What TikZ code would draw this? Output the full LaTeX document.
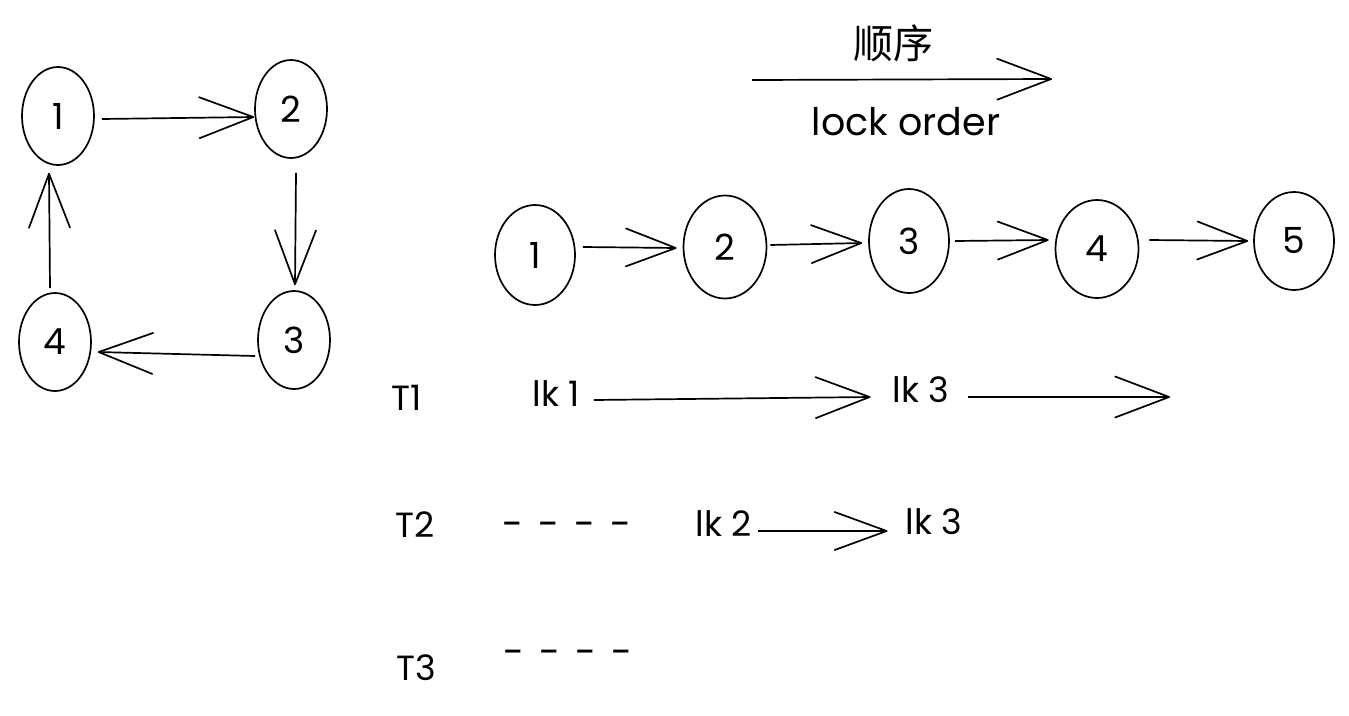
\documentclass[tikz,border=0pt]{standalone}
\usepackage{fontspec}
\setmainfont{Poppins}
\newfontfamily\cjk{Noto Sans CJK SC}
\usetikzlibrary{shapes.geometric,arrows.meta,calc}
\tikzset{
  ell/.style={draw, ellipse, line width=1.7pt, inner sep=0pt, minimum width=72pt, minimum height=98pt, font=\fontsize{36}{40}\selectfont},
  mell/.style={ell, minimum width=80pt, minimum height=100pt},
  arr/.style={line width=1.7pt, -{Straight Barb[length=54pt,width=41pt,round]}},
  marr/.style={line width=1.7pt, -{Straight Barb[length=50pt,width=38pt,round]}},
  lbl/.style={inner sep=0pt, font=\fontsize{35}{40}\selectfont},
  dashtxt/.style={inner sep=0pt, font=\fontsize{38}{40}\selectfont}
}
\begin{document}
\begin{tikzpicture}[x=1pt,y=-1pt]
\useasboundingbox[fill=white] (0,0) rectangle (1349,715);
% left cycle
\node[ell] (L1) at (58,116) {1};
\node[ell] (L2) at (291,109) {2};
\node[ell] (L3) at (294,340) {3};
\node[ell] (L4) at (55,342) {4};
\draw[arr] ($(L1.east)+(7,3)$) -- ($(L2.west)+(0,8)$);
\draw[arr] ($(L2.south)+(5,14)$) -- ($(L3.north)+(1,-5)$);
\draw[arr] ($(L3.west)+(-2,16)$) -- ($(L4.east)+(6,10)$);
\draw[arr] ($(L4.north)+(-5,-4)$) -- ($(L1.south)+(-9,7)$);
% order arrow
\coordinate (OA) at (752,80);
\coordinate (OB) at (1052,79);
\draw[arr] (OA) -- (OB);
\node[inner sep=0pt, font=\cjk\fontsize{40}{44}\selectfont] (shunxu) at (893,43) {顺序};
\node[lbl, font=\fontsize{38}{42}\selectfont] (lockorder) at (906,122) {lock order};
% middle row
\node[mell] (M1) at (535,255) {1};
\node[mell, minimum width=83pt, minimum height=103pt] (M2) at (725,247) {2};
\node[mell, minimum height=104pt] (M3) at (909,241) {3};
\node[mell, minimum width=83pt, minimum height=98pt] (M4) at (1097,249) {4};
\node[mell, minimum height=98pt] (M5) at (1294,241) {5};
\draw[marr] ($(M1.east)+(7,-8)$) -- ($(M2.west)+(-6,1)$);
\draw[marr] ($(M2.east)+(3,-2)$) -- ($(M3.west)+(-6,2)$);
\draw[marr] ($(M3.east)+(5,0)$) -- ($(M4.west)+(-6,-9)$);
\draw[marr] ($(M4.east)+(10,-9)$) -- ($(M5.west)+(-5,0)$);
% thread rows
\node[lbl] (T1) at (407,398) {T1};
\node[lbl] (lk1) at (556,394) {lk 1};
\node[lbl] (lk3a) at (921,390) {lk 3};
\coordinate (end1) at (1170,397);
\draw[arr] ($(lk1.east)+(14,6)$) -- ($(lk3a.west)+(-22,7)$);
\draw[arr] ($(lk3a.east)+(18,7)$) -- (end1);
\node[lbl] (T2) at (415,525) {T2};
\node[dashtxt] (d2) at (567,530) {-\hspace{15pt}-\hspace{15pt}-\hspace{15pt}-};
\node[lbl] (lk2) at (724,524) {lk 2};
\node[lbl] (lk3b) at (934,522) {lk 3};
\draw[arr, -{Straight Barb[length=52pt,width=38pt,round]}] ($(lk2.east)+(6,7)$) -- ($(lk3b.west)+(-18,9)$);
\node[lbl] (T3) at (416,668) {T3};
\node[dashtxt] (d3) at (568,658) {-\hspace{15pt}-\hspace{15pt}-\hspace{15pt}-};
\end{tikzpicture}
\end{document}
